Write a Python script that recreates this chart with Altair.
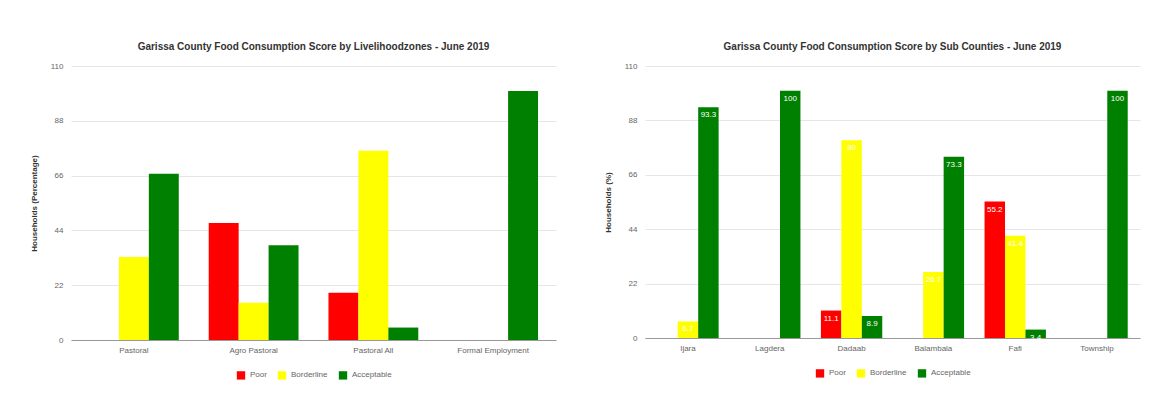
import altair as alt
import pandas as pd

# Left chart: livelihood zones
zones = ["Pastoral", "Agro Pastoral", "Pastoral All", "Formal Employment"]
zone_poor = [0, 47, 19, 0]
zone_borderline = [33.3, 15, 76, 0]
zone_acceptable = [66.7, 38, 5, 100]

# Right chart: sub counties
subs = ["Ijara", "Lagdera", "Dadaab", "Balambala", "Fafi", "Township"]
sub_poor = [0, 0, 11.1, 0, 55.2, 0]
sub_borderline = [6.7, 0, 80, 26.7, 41.4, 0]
sub_acceptable = [93.3, 100, 8.9, 73.3, 3.4, 100]

groups = ["Poor", "Borderline", "Acceptable"]
colors = ["#ff0000", "#ffff00", "#008000"]
y_ticks = [0, 22, 44, 66, 88, 110]

def long_df(cats, poor, border, acc):
    rows = []
    for i, c in enumerate(cats):
        for g, v in zip(groups, [poor[i], border[i], acc[i]]):
            rows.append({"key": c + "|" + g, "cat": c, "group": g, "value": v,
                         "label": ("%g" % v) if v > 0 else ""})
    return pd.DataFrame(rows)

def key_domain(cats):
    dom = []
    for i, c in enumerate(cats):
        if i > 0:
            dom.append("~gap%d" % i)
        dom += [c + "|" + g for g in groups]
    return dom

left_df = long_df(zones, zone_poor, zone_borderline, zone_acceptable)
right_df = long_df(subs, sub_poor, sub_borderline, sub_acceptable)

FONT = "Liberation Sans"

def make_chart(df, cats, title, ytitle, w, h, labels, legend_x):
    x = alt.X("key:N", title=None,
              scale=alt.Scale(type="band", domain=key_domain(cats),
                              paddingInner=0, paddingOuter=0.6),
              axis=alt.Axis(labelAngle=0, ticks=False, labelFontSize=8,
                            labelColor="#666666", domainColor="#999999",
                            labelPadding=6, labelOverlap=False, labelBound=False,
                            labelExpr="indexof(datum.value, '|Borderline') > 0 ? split(datum.value, '|')[0] : ''"))
    y = alt.Y("value:Q", title=ytitle,
              scale=alt.Scale(domain=[0, 110], nice=False),
              axis=alt.Axis(values=y_ticks, labelFontSize=8, labelColor="#666666",
                            titleFontSize=8, titleColor="#333333", titleFontWeight="bold",
                            domain=False, ticks=False, gridColor="#e6e6e6",
                            labelPadding=8, titlePadding=12))
    color = alt.Color("group:N",
                      scale=alt.Scale(domain=groups, range=colors),
                      legend=alt.Legend(title=None, orient="none", direction="horizontal",
                                        legendX=legend_x, legendY=h + 30,
                                        symbolType="square", labelFontSize=8,
                                        labelColor="#666666", symbolSize=70))
    base = alt.Chart(df).encode(x=x, y=y)
    bars = base.mark_bar().encode(color=color)
    layers = [bars]
    if labels:
        txt = base.mark_text(
            color="white", baseline="top", dy=4, fontSize=8, font=FONT
        ).encode(text="label:N")
        layers.append(txt)
    return alt.layer(*layers).properties(
        width=w, height=h,
        title=alt.TitleParams(title, fontSize=10, color="#333333", fontWeight="bold",
                              anchor="middle", offset=10, font=FONT)
    )

left = make_chart(left_df, zones,
                  "Garissa County Food Consumption Score by Livelihoodzones - June 2019",
                  "Households (Percentage)", 485, 274, False, 165)
right = make_chart(right_df, subs,
                   "Garissa County Food Consumption Score by Sub Counties - June 2019",
                   "Households (%)", 495, 272, True, 170)

chart = alt.hconcat(left, right, spacing=48).resolve_legend(color="independent").configure(
    font=FONT, background="white"
).configure_view(stroke=None).properties(padding={"left": 30, "top": 42, "right": 10, "bottom": 5})

chart.save("out.html", embed_options={"renderer": "svg", "actions": False})
